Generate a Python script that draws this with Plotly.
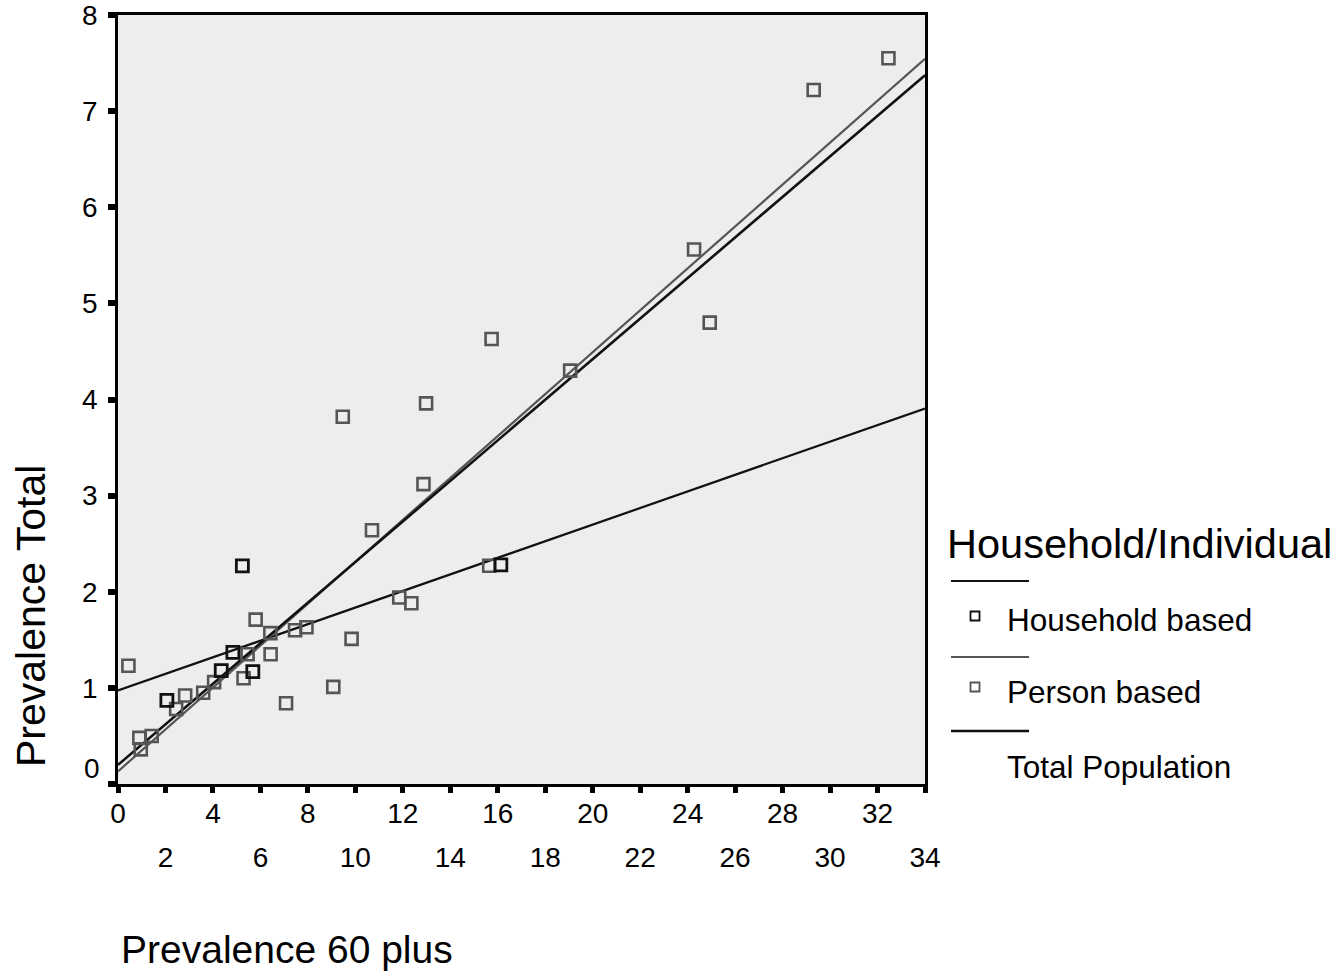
import numpy as np
import plotly.graph_objects as go

# Prevalence (%) among people aged 60+ vs. prevalence in the total population
household_x = [2.06, 4.35, 4.84, 5.24, 5.68, 16.13]
household_y = [0.87, 1.18, 1.37, 2.27, 1.17, 2.28]

person_x = [0.44, 0.90, 0.96, 1.42, 2.45, 2.83, 3.59, 4.05, 5.29, 5.46, 5.80,
            6.42, 6.43, 7.08, 7.46, 7.94, 9.07, 9.47, 9.84, 10.70, 11.85, 12.36,
            12.87, 12.98, 15.64, 15.74, 19.05, 24.27, 24.93, 29.31, 32.46]
person_y = [1.23, 0.48, 0.36, 0.50, 0.78, 0.92, 0.95, 1.06, 1.10, 1.35, 1.71,
            1.57, 1.35, 0.84, 1.60, 1.63, 1.01, 3.82, 1.51, 2.64, 1.94, 1.88,
            3.12, 3.96, 2.27, 4.63, 4.30, 5.56, 4.80, 7.22, 7.55]

x_major_ticks = [0, 4, 8, 12, 16, 20, 24, 28, 32]
x_minor_ticks = [2, 6, 10, 14, 18, 22, 26, 30, 34]
y_ticks = [0, 1, 2, 3, 4, 5, 6, 7, 8]

X_RANGE = [0, 34]
Y_RANGE = [0, 8]

BLACK = "#111111"
GREY = "#555555"
FONT = "Liberation Sans, Arial, sans-serif"

# Figure geometry (pixels)
W, H = 1338, 974
L, R, T, B = 118, 413, 15, 190
PW, PH = W - L - R, H - T - B


def px_x(px):
    return (px - L) / PW


def px_y(py):
    return (H - B - py) / PH


def fit_line(xs, ys):
    slope, intercept = np.polyfit(xs, ys, 1)
    xs_line = np.array(X_RANGE, dtype=float)
    return xs_line, intercept + slope * xs_line


fig = go.Figure()

hx, hy = fit_line(household_x, household_y)
px_, py_ = fit_line(person_x, person_y)
tx, ty = fit_line(household_x + person_x, household_y + person_y)

fig.add_trace(go.Scatter(x=hx, y=hy, mode="lines",
                         line=dict(color=BLACK, width=2.2), showlegend=False,
                         hoverinfo="skip"))
fig.add_trace(go.Scatter(x=px_, y=py_, mode="lines",
                         line=dict(color=GREY, width=2.2), showlegend=False,
                         hoverinfo="skip"))
fig.add_trace(go.Scatter(x=tx, y=ty, mode="lines",
                         line=dict(color=BLACK, width=2.6), showlegend=False,
                         hoverinfo="skip"))

fig.add_trace(go.Scatter(x=person_x, y=person_y, mode="markers",
                         name="Person based",
                         marker=dict(symbol="square-open", size=12, color=GREY,
                                     line=dict(width=2.6, color=GREY)),
                         showlegend=False))
fig.add_trace(go.Scatter(x=household_x, y=household_y, mode="markers",
                         name="Household based",
                         marker=dict(symbol="square-open", size=12, color=BLACK,
                                     line=dict(width=2.8, color=BLACK)),
                         showlegend=False))

# invisible trace so the second label row axis is rendered
fig.add_trace(go.Scatter(x=X_RANGE, y=Y_RANGE, xaxis="x2", mode="markers",
                         marker=dict(opacity=0), showlegend=False,
                         hoverinfo="skip"))

all_x_ticks = sorted(x_major_ticks + x_minor_ticks)

fig.update_layout(
    width=W, height=H,
    margin=dict(l=L, r=R, t=T, b=B, autoexpand=False),
    paper_bgcolor="white",
    plot_bgcolor="#ededed",
    font=dict(family=FONT, color="black", size=27),
    showlegend=False,
    xaxis=dict(
        range=X_RANGE, showgrid=False, zeroline=False, automargin=False,
        showline=True, linecolor="black", linewidth=2.5, mirror=True,
        ticks="outside", tickcolor="black", ticklen=6, tickwidth=5,
        tickvals=all_x_ticks,
        ticktext=[str(v) if v in x_major_ticks else "" for v in all_x_ticks],
        tickfont=dict(size=28, family=FONT),
        ticklabelstandoff=-3, ticklabeloverflow="allow",
    ),
    xaxis2=dict(
        range=X_RANGE, overlaying="x", side="bottom", anchor="y",
        automargin=False,
        showgrid=False, zeroline=False, showline=False, ticks="",
        tickvals=x_minor_ticks, ticktext=[str(v) for v in x_minor_ticks],
        tickfont=dict(size=28, family=FONT),
        ticklabelstandoff=54, ticklabeloverflow="allow",
    ),
    yaxis=dict(
        range=Y_RANGE, showgrid=False, zeroline=False, automargin=False,
        showline=True, linecolor="black", linewidth=2.5, mirror=True,
        ticks="outside", tickcolor="black", ticklen=7, tickwidth=6,
        tickvals=y_ticks,
        ticktext=["" if v == 0 else str(v) for v in y_ticks],
        tickfont=dict(size=28, family=FONT),
        ticklabelstandoff=5, ticklabeloverflow="allow",
    ),
)

annotations = [
    # y-axis zero label sits slightly above the corner
    dict(x=0, y=0, xref="paper", yref="y", text="0", showarrow=False,
         xanchor="right", yanchor="middle", xshift=-16, yshift=16,
         font=dict(size=28, family=FONT)),
    # axis titles
    dict(x=px_x(119), y=px_y(949), xref="paper", yref="paper",
         text="Prevalence 60 plus", showarrow=False, xanchor="left",
         yanchor="middle", font=dict(size=39, family=FONT)),
    dict(x=px_x(31), y=px_y(616), xref="paper", yref="paper",
         text="Prevalence Total", showarrow=False, textangle=-90,
         xanchor="center", yanchor="middle", font=dict(size=41, family=FONT)),
    # legend
    dict(x=px_x(945), y=px_y(543), xref="paper", yref="paper",
         text="Household/Individual", showarrow=False, xanchor="left",
         yanchor="middle", font=dict(size=41.5, family=FONT)),
    dict(x=px_x(1005), y=px_y(620), xref="paper", yref="paper",
         text="Household based", showarrow=False, xanchor="left",
         yanchor="middle", font=dict(size=31.5, family=FONT)),
    dict(x=px_x(1005), y=px_y(692), xref="paper", yref="paper",
         text="Person based", showarrow=False, xanchor="left",
         yanchor="middle", font=dict(size=31.5, family=FONT)),
    dict(x=px_x(1005), y=px_y(767), xref="paper", yref="paper",
         text="Total Population", showarrow=False, xanchor="left",
         yanchor="middle", font=dict(size=31.5, family=FONT)),
]
fig.update_layout(annotations=annotations)

shapes = []
legend_lines = [(581, BLACK, 2.2), (657, GREY, 2.2), (731, BLACK, 2.6)]
for ypx, color, width in legend_lines:
    shapes.append(dict(type="line", xref="paper", yref="paper",
                       x0=px_x(951), x1=px_x(1029), y0=px_y(ypx), y1=px_y(ypx),
                       line=dict(color=color, width=width)))

legend_marks = [(616, BLACK), (687, GREY)]
half = 4.5
for ypx, color in legend_marks:
    shapes.append(dict(type="rect", xref="paper", yref="paper",
                       x0=px_x(975 - half), x1=px_x(975 + half),
                       y0=px_y(ypx + half), y1=px_y(ypx - half),
                       line=dict(color=color, width=1.8),
                       fillcolor="rgba(0,0,0,0)"))
fig.update_layout(shapes=shapes)

fig.write_html("out.html")
